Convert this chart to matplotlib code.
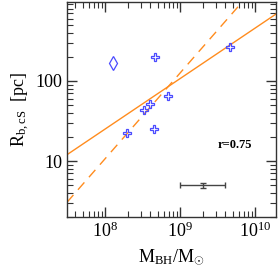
import numpy as np
import matplotlib
matplotlib.use("Agg")
import matplotlib.pyplot as plt
from matplotlib.ticker import LogLocator, FixedLocator, NullFormatter, FixedFormatter

plt.rcParams['font.family'] = ['Liberation Serif', 'DejaVu Serif']
plt.rcParams['mathtext.fontset'] = 'custom'
plt.rcParams['mathtext.rm'] = 'Liberation Serif'
plt.rcParams['mathtext.it'] = 'Liberation Serif'

# black hole masses (Msun) and core radii (pc)
mbh_cross = [4.6e8, 4.6e9, 6.8e8, 4.0e8, 3.25e8, 1.95e8, 4.5e8]
rb_cross = [198, 262, 65, 51.5, 43.5, 22.6, 25.1]
mbh_diamond = [1.29e8]
rb_diamond = [166]

# fits: log R = a + b * (log M - 9)
fit_solid = (2.03, 0.63)
fit_dashed = (2.10, 1.07)

# typical error bar
err_x, err_y = 2.0e9, 5.0
err_xlo, err_xhi = 1.0e9, 2.0e9
err_ylo, err_yhi = 0.4, 0.4

fig = plt.figure(figsize=(2.78, 2.70), dpi=100)
ax = fig.add_axes([0.241, 0.196, 0.752, 0.797])

xlim = (3.1e7, 1.9e10)
ylim = (2.0, 970)
lx = np.linspace(np.log10(xlim[0]), np.log10(xlim[1]), 50)
orange = '#ff8c1e'
ax.plot(10**lx, 10**(fit_solid[0] + fit_solid[1] * (lx - 9)), color=orange, lw=1.0)
ax.plot(10**lx, 10**(fit_dashed[0] + fit_dashed[1] * (lx - 9)), color=orange, lw=1.0,
        dashes=(7, 5))

blue = '#4b4bff'
ax.plot(mbh_cross, rb_cross, 'P', ms=6, mfc='none', mec=blue, mew=0.9, ls='none')
ax.plot(mbh_diamond, rb_diamond, 'd', ms=7.5, mfc='none', mec=blue, mew=0.9, ls='none')

ax.errorbar([err_x], [err_y], xerr=[[err_xlo], [err_xhi]], yerr=[[err_ylo], [err_yhi]],
            fmt='none', ecolor='#444444', elinewidth=1.0, capsize=2.5, capthick=1.0)

ax.text(0.805, 0.335, 'r=0.75', transform=ax.transAxes, fontsize=9, fontweight='semibold',
        ha='center', va='center')

ax.set_xscale('log')
ax.set_yscale('log')
ax.set_xlim(*xlim)
ax.set_ylim(*ylim)

ax.xaxis.set_major_locator(FixedLocator([1e8, 1e9, 1e10]))
ax.xaxis.set_major_formatter(FixedFormatter([r'$10^8$', r'$10^9$', r'$10^{10}$']))
ax.xaxis.set_minor_locator(LogLocator(base=10, subs=np.arange(2, 10)))
ax.xaxis.set_minor_formatter(NullFormatter())
ax.yaxis.set_major_locator(FixedLocator([10, 100]))
ax.yaxis.set_major_formatter(FixedFormatter(['10', '100']))
ax.yaxis.set_minor_locator(LogLocator(base=10, subs=np.arange(2, 10)))
ax.yaxis.set_minor_formatter(NullFormatter())

ax.tick_params(which='both', direction='in', top=True, right=True, colors='#333333',
               labelcolor='black', labelsize=13)
ax.tick_params(which='major', length=7, width=1)
ax.tick_params(which='minor', length=4, width=0.8)
for s in ax.spines.values():
    s.set_color('#333333')
    s.set_linewidth(1.0)

ax.set_xlabel(r'$\mathrm{M_{BH}/M_{\odot}}$', fontsize=13, labelpad=4)
ax.set_ylabel(r'$\mathrm{R_{b,cS}}$  [pc]', fontsize=13, labelpad=2)

fig.savefig('out.png', dpi=100)
